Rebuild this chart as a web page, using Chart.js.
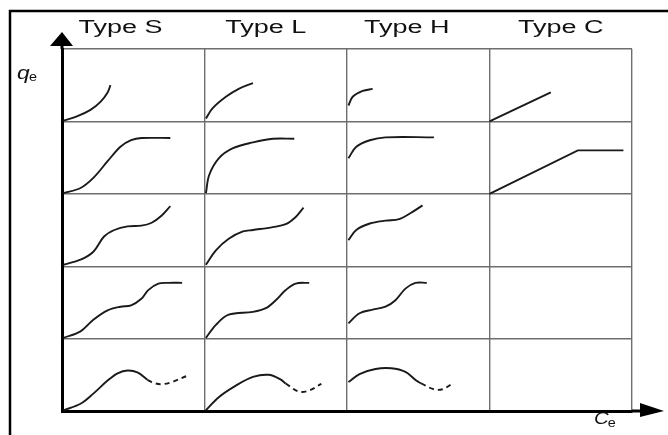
<!DOCTYPE html>
<html>
<head>
<meta charset="utf-8">
<script src="https://cdn.jsdelivr.net/npm/chart.js@4.4.1/dist/chart.umd.min.js"></script>
<style>
  body { margin: 0; background: #fff; }
  #wrap { width: 668px; height: 435px; }
</style>
</head>
<body>
<div id="wrap"><canvas id="isotherms"></canvas></div>
<script>
// column headers
var types = ["Type S", "Type L", "Type H", "Type C"];

// curves per column, rows from top to bottom, points as [Ce, qe] inside one cell (0..1)
var typeS = [
    [[0.01, 0.01], [0.1, 0.065], [0.2, 0.16], [0.27, 0.27], [0.32, 0.4], [0.34, 0.5]],
    [[0.01, 0.01], [0.13, 0.08], [0.22, 0.22], [0.32, 0.45], [0.41, 0.65], [0.485, 0.74], [0.557, 0.77], [0.76, 0.77]],
    [[0.01, 0.02], [0.13, 0.09], [0.22, 0.2], [0.295, 0.41], [0.367, 0.5], [0.46, 0.55], [0.557, 0.56], [0.629, 0.6], [0.7, 0.7], [0.76, 0.83]],
    [[0.01, 0.01], [0.13, 0.1], [0.22, 0.26], [0.32, 0.39], [0.41, 0.44], [0.485, 0.46], [0.557, 0.55], [0.605, 0.67], [0.676, 0.76], [0.748, 0.77], [0.843, 0.77]],
    [[0.01, 0.01], [0.13, 0.1], [0.22, 0.24], [0.32, 0.42], [0.39, 0.52], [0.46, 0.56], [0.533, 0.53], [0.6, 0.43]]
];
var typeL = [
    [[0.01, 0.04], [0.056, 0.18], [0.15, 0.34], [0.24, 0.45], [0.34, 0.53]],
    [[0.01, 0.01], [0.033, 0.26], [0.1, 0.49], [0.2, 0.63], [0.34, 0.71], [0.48, 0.76], [0.63, 0.76]],
    [[0.01, 0.02], [0.08, 0.22], [0.17, 0.38], [0.27, 0.48], [0.34, 0.5], [0.48, 0.54], [0.57, 0.58], [0.64, 0.68], [0.695, 0.81]],
    [[0.01, 0.01], [0.08, 0.19], [0.17, 0.33], [0.34, 0.37], [0.43, 0.42], [0.5, 0.53], [0.57, 0.67], [0.64, 0.76], [0.735, 0.77]],
    [[0.01, 0.01], [0.1, 0.19], [0.22, 0.35], [0.34, 0.47], [0.45, 0.5], [0.53, 0.44], [0.57, 0.38]]
];
var typeH = [
    [[0.01, 0.22], [0.04, 0.34], [0.11, 0.42], [0.18, 0.45]],
    [[0.01, 0.49], [0.065, 0.65], [0.16, 0.74], [0.27, 0.78], [0.61, 0.78]],
    [[0.01, 0.36], [0.065, 0.5], [0.16, 0.59], [0.27, 0.63], [0.366, 0.65], [0.46, 0.75], [0.53, 0.84]],
    [[0.01, 0.21], [0.088, 0.35], [0.18, 0.4], [0.27, 0.44], [0.34, 0.53], [0.41, 0.69], [0.48, 0.77], [0.56, 0.77]],
    [[0.01, 0.4], [0.088, 0.51], [0.2, 0.58], [0.31, 0.59], [0.41, 0.54], [0.486, 0.42], [0.52, 0.38]]
];
var typeC = [
    [[0, 0], [0.43, 0.4]],
    [[0, 0], [0.62, 0.6], [0.94, 0.6]],
    [], [], []
];
// dashed tails of the last row (S, L, H)
var tailS = [[0.6, 0.43], [0.64, 0.39], [0.7, 0.37], [0.771, 0.4], [0.871, 0.48]];
var tailL = [[0.57, 0.38], [0.66, 0.27], [0.73, 0.28], [0.82, 0.375]];
var tailH = [[0.52, 0.38], [0.61, 0.3], [0.67, 0.3], [0.74, 0.38]];

var nRows = 5;
var columns = [typeS, typeL, typeH, typeC];
var tails = [tailS, tailL, tailH];

function toCell(points, col, row) {
    return points.map(function(p) {
        return { x: col + p[0], y: (nRows - 1 - row) + p[1] };
    });
}

var datasets = [];
columns.forEach(function(curves, col) {
    curves.forEach(function(pts, row) {
        if (!pts.length) return;
        // type C is made of straight segments
        datasets.push({ data: toCell(pts, col, row), borderDash: [], tension: col == 3 ? 0 : 0.35 });
    });
});
tails.forEach(function(pts, col) {
    datasets.push({ data: toCell(pts, col, nRows - 1), borderDash: [5, 4], tension: 0.35 });
});
datasets.forEach(function(d) {
    d.showLine = true;
    d.borderColor = "#1a1a1a";
    d.borderWidth = 1.9;
    d.pointRadius = 0;
    d.fill = false;
});

var decor = {
    id: "decor",
    afterDraw: function(chart) {
        var ctx = chart.ctx;
        var xs = chart.scales.x, ys = chart.scales.y;
        var left = xs.getPixelForValue(0), right = xs.getPixelForValue(4);
        var top = ys.getPixelForValue(5), bottom = ys.getPixelForValue(0);
        ctx.save();
        // outer frame
        ctx.strokeStyle = "#000";
        ctx.lineWidth = 2.5;
        ctx.beginPath();
        ctx.moveTo(10, 440);
        ctx.lineTo(10, 11);
        ctx.lineTo(670, 11);
        ctx.stroke();
        // axis extensions + arrows
        ctx.lineWidth = 3;
        ctx.beginPath();
        ctx.moveTo(left, top);
        ctx.lineTo(left, top - 4);
        ctx.moveTo(right, bottom);
        ctx.lineTo(right + 9, bottom);
        ctx.stroke();
        ctx.fillStyle = "#000";
        ctx.beginPath();
        ctx.moveTo(left - 12, top - 3);
        ctx.lineTo(left + 11, top - 3);
        ctx.lineTo(left, top - 17);
        ctx.closePath();
        ctx.fill();
        ctx.beginPath();
        ctx.moveTo(right + 8, bottom - 8);
        ctx.lineTo(right + 8, bottom + 6);
        ctx.lineTo(right + 32, bottom);
        ctx.closePath();
        ctx.fill();
        // column headers (stretched like the scanned figure)
        var headerPos = [0.41, 0.43, 0.42, 0.5];
        ctx.font = "18px 'Liberation Sans', Arial, sans-serif";
        ctx.textAlign = "center";
        ctx.textBaseline = "alphabetic";
        ctx.fillStyle = "#111";
        types.forEach(function(t, i) {
            var cx = xs.getPixelForValue(i + headerPos[i]);
            ctx.save();
            ctx.translate(cx, 33);
            ctx.scale(1.5, 1);
            ctx.fillText(t, 0, 0);
            ctx.restore();
        });
        // axis labels
        ctx.textAlign = "left";
        ctx.save();
        ctx.translate(17, 79);
        ctx.scale(1.2, 1);
        ctx.font = "italic 19px 'Liberation Sans', Arial, sans-serif";
        ctx.fillText("q", 0, 0);
        ctx.font = "12px 'Liberation Sans', Arial, sans-serif";
        ctx.fillText("e", 10, 2);
        ctx.restore();
        ctx.save();
        ctx.translate(594, 424);
        ctx.scale(1.2, 1);
        ctx.font = "italic 17px 'Liberation Sans', Arial, sans-serif";
        ctx.fillText("C", 0, 0);
        ctx.font = "12px 'Liberation Sans', Arial, sans-serif";
        ctx.fillText("e", 11.5, 3);
        ctx.restore();
        ctx.restore();
    }
};

new Chart(document.getElementById("isotherms"), {
    type: "scatter",
    data: { datasets: datasets },
    options: {
        responsive: true,
        maintainAspectRatio: false,
        animation: false,
        layout: { padding: { left: 62, right: 36, top: 49, bottom: 24 } },
        plugins: {
            legend: { display: false },
            tooltip: { enabled: false }
        },
        scales: {
            x: {
                type: "linear",
                min: 0,
                max: 4,
                ticks: { display: false, stepSize: 1 },
                grid: { color: "#6e6e6e", lineWidth: 1.4, drawTicks: false },
                border: { color: "#000", width: 3 }
            },
            y: {
                type: "linear",
                min: 0,
                max: 5,
                ticks: { display: false, stepSize: 1 },
                grid: { color: "#6e6e6e", lineWidth: 1.4, drawTicks: false },
                border: { color: "#000", width: 3 }
            }
        }
    },
    plugins: [decor]
});
</script>
</body>
</html>
